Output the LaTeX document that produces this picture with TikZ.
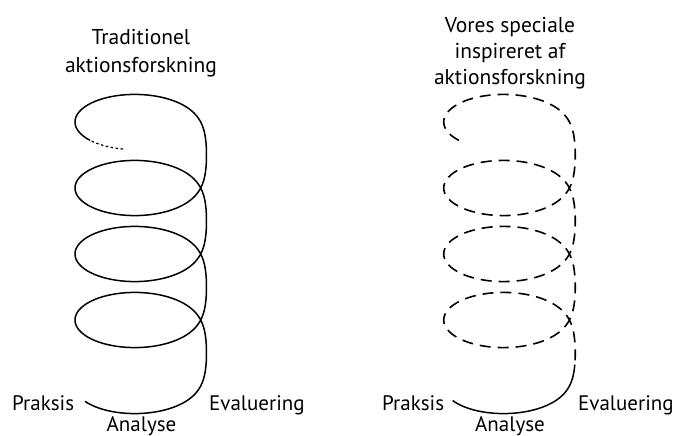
\documentclass[tikz,border=0pt]{standalone}
\usepackage{fontspec}
\setmainfont{PT Sans}
\begin{document}
\begin{tikzpicture}[x=1pt,y=-1pt,
  declare function={
    % smooth staircase: flat around each loop, steep drop on the right side
    stair(\t)=\t/(2*pi)+rad(atan(0.745*sin(\t r)/(1-0.745*cos(\t r))))/pi;
    hx(\t)=140.75+65.75*cos(\t r);
    hy(\t)=89+30.5*sin(\t r)+66*stair(\t);
  },
  coil/.style={line width=1.5pt, line join=round},
  coildots/.style={line width=1.2pt, dash pattern=on 2.5pt off 2.5pt},
  coildash/.style={line width=1.6pt, dash pattern=on 11pt off 7pt},
  label/.style={inner sep=0pt, anchor=base, font=\fontsize{21}{26}\selectfont},
]
\useasboundingbox (0,0) rectangle (673,436);

% traditional action research: full spiral
\begin{scope}
  \draw[coildots] plot[variable=\t, domain=1.844:2.45, samples=20] ({hx(\t)},{hy(\t)});
  \draw[coil] plot[variable=\t, domain=2.45:27.72, samples=600] ({hx(\t)},{hy(\t)});
\end{scope}
% multi-line nodes: the base anchor sits on the last line
\node[label, align=center, font=\fontsize{21.5}{28}\selectfont] (ltitle) at (141,73) {Traditionel\\aktionsforskning};
\node[label, anchor=base west] (lpraksis) at (12,410) {Praksis};
\node[label] (lanalyse) at (141.5,431) {Analyse};
\node[label, anchor=base west] (levaluering) at (209,410) {Evaluering};

% our thesis: dashed spiral, last turn solid
\begin{scope}[xshift=368.75pt]
  \draw[coildash] plot[variable=\t, domain=2.45:25.25, samples=560] ({hx(\t)},{hy(\t)});
  \draw[coil] plot[variable=\t, domain=25.25:27.75, samples=80] ({hx(\t)},{hy(\t)});
\end{scope}
\node[label, align=center, font=\fontsize{21.5}{26}\selectfont] (rtitle) at (510,84.5) {Vores speciale\\inspireret af\\aktionsforskning};
\node[label, anchor=base west] (rpraksis) at (382,410.7) {Praksis};
\node[label] (ranalyse) at (510,431) {Analyse};
\node[label, anchor=base west] (revaluering) at (578,410.7) {Evaluering};
\end{tikzpicture}
\end{document}
